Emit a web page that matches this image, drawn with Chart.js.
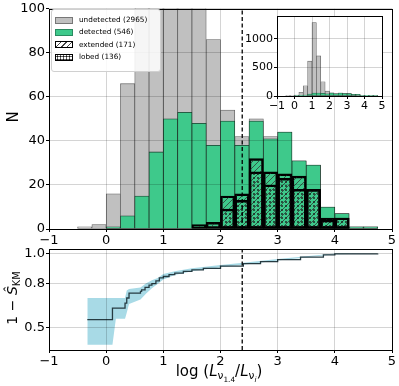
<!DOCTYPE html>
<html>
<head>
<meta charset="utf-8">
<script src="https://cdn.jsdelivr.net/npm/chart.js@4/dist/chart.umd.min.js"></script>
<style>
	body { margin: 0; background: #fff; font-family: 'DejaVu Sans', sans-serif; }
	#wrap { position: relative; width: 399px; height: 386px; overflow: hidden; }
	canvas { position: absolute; }
	#main { left: 0; top: 0; }
	#km { left: 0; top: 240px; }
	#inset { left: 240px; top: 8px; }
	.lab { position: absolute; white-space: nowrap; color: #000; transform: translate(-50%, -50%); }
	.rot { transform: translate(-50%, -50%) rotate(-90deg); }
	#legend {
		position: absolute; left: 51px; top: 9px; width: 108px; height: 57px;
		padding-top: 4px; border: 1px solid #d0d0d0; border-radius: 3px;
		background: rgba(255, 255, 255, 0.85); font-family: 'DejaVu Sans', sans-serif;
		font-size: 7.3px; line-height: 12.3px; white-space: nowrap;
	}
	#legend .row { display: flex; align-items: center; height: 12.3px; }
	#legend .patch { display: inline-block; box-sizing: border-box; width: 18px; height: 7px; margin: 0 6px 0 3px; flex: none; }
	sub { font-size: 70%; vertical-align: -0.3em; }
</style>
</head>
<body>
<div id="wrap">
	<canvas id="main" width="399" height="250"></canvas>
	<canvas id="km" width="399" height="146"></canvas>
	<canvas id="inset" width="150" height="105"></canvas>
	<div id="legend">
		<div class="row"><span class="patch" style="background:#c0c0c0;border:1px solid #777"></span>undetected (2965)</div>
		<div class="row"><span class="patch" style="background:#3ec98b;border:1px solid #2a8a60"></span>detected (546)</div>
		<div class="row"><span class="patch" style="border:1.5px solid #000;background:repeating-linear-gradient(135deg,#fff 0 3px,#444 3px 4px)"></span>extended (171)</div>
		<div class="row"><span class="patch" style="border:1.5px solid #000;background:radial-gradient(circle,#111 0.9px,#fff 1.2px) 0 0/3px 3px"></span>lobed (136)</div>
	</div>
	<div class="lab rot" style="left:13px;top:117px;font-size:15px">N</div>
	<div class="lab rot" style="left:13px;top:298px;font-size:14px">1 − <i>Ŝ</i><sub>KM</sub></div>
	<div class="lab" style="left:219px;top:373px;font-size:15px">log (<i>L</i><sub>ν<sub>1.4</sub></sub>/<i>L</i><sub>ν<sub><i>i</i></sub></sub>)</div>
</div>
<script>
// histogram bins (left edges, width 0.25)
const binLeft = [-0.5, -0.25, 0, 0.25, 0.5, 0.75, 1, 1.25, 1.5, 1.75, 2, 2.25, 2.5, 2.75, 3, 3.25, 3.5, 3.75, 4, 4.25, 4.5];
const binWidth = 0.25;
const allSources = [1, 2, 16, 66, 180, 612, 1286, 702, 250, 86, 54, 42, 50, 42, 44, 31, 29, 10, 7, 1, 1];
const detected = [0, 0, 1, 6, 15, 35, 50, 53, 48, 38, 49, 38, 49, 41, 44, 31, 29, 10, 7, 1, 1];
const extended = [0, 0, 0, 0, 0, 0, 0, 0, 2, 3, 15, 16, 32, 26, 25, 24, 18, 5, 5, 0, 0];
const lobed = [0, 0, 0, 0, 0, 0, 0, 0, 0, 0, 9, 13, 26, 20, 23, 18, 18, 4, 5, 0, 0];

const cutX = 2.38;
const xTicks = [-1, 0, 1, 2, 3, 4, 5];
const nTicks = [0, 20, 40, 60, 80, 100];
const insetTicks = [0, 500, 1000];

// Kaplan-Meier curve and confidence band
const kmX = [-0.33, 0.11, 0.33, 0.36, 0.40, 0.60, 0.62, 0.68, 0.75, 0.80, 0.87, 0.93, 1.00, 1.10, 1.20, 1.35, 1.50, 1.70, 2.00, 2.40, 2.70, 3.00, 3.40, 3.80, 4.00, 4.75];
const kmY = [0.555, 0.632, 0.665, 0.70, 0.733, 0.745, 0.755, 0.772, 0.787, 0.797, 0.815, 0.835, 0.845, 0.858, 0.868, 0.880, 0.890, 0.900, 0.915, 0.932, 0.945, 0.958, 0.975, 0.990, 0.997, 1.0];
const bandX = [-0.33, 0.11, 0.17, 0.33, 0.36, 0.40, 0.60, 0.70, 0.80, 0.90, 1.00, 1.20, 1.50, 2.00, 2.40, 3.00, 4.00, 4.75];
const bandLo = [0.385, 0.385, 0.56, 0.56, 0.60, 0.66, 0.69, 0.73, 0.765, 0.795, 0.825, 0.855, 0.88, 0.907, 0.924, 0.953, 0.995, 1.0];
const bandHi = [0.70, 0.70, 0.70, 0.70, 0.75, 0.76, 0.77, 0.80, 0.82, 0.835, 0.862, 0.88, 0.90, 0.922, 0.937, 0.963, 0.999, 1.0];
const kmTicks = [0.5, 0.8, 1.0];
const kmMin = 0.35, kmMax = 1.03;

Chart.defaults.font.family = "'DejaVu Sans', sans-serif";
Chart.defaults.color = '#000';

const gridColor = 'rgba(0,0,0,0.17)';
const fmtTick = (v) => (v < 0 ? '−' + Math.abs(v) : String(v));
const toBars = (vals) => binLeft.map((b, i) => ({ x: b + binWidth / 2, y: vals[i] || null }));
const toPoints = (xs, ys) => xs.map((x, i) => ({ x: x, y: ys[i] }));

// axes box (all four spines), optional white background of the plot area
const frame = {
	id: 'frame',
	beforeDraw(chart, args, opts) {
		if (!opts.fill) return;
		const a = chart.chartArea;
		chart.ctx.save();
		chart.ctx.fillStyle = opts.fill;
		chart.ctx.fillRect(a.left, a.top, a.right - a.left, a.bottom - a.top);
		chart.ctx.restore();
	},
	afterDraw(chart) {
		const a = chart.chartArea;
		const ctx = chart.ctx;
		ctx.save();
		ctx.strokeStyle = '#000';
		ctx.lineWidth = 1;
		ctx.strokeRect(Math.round(a.left) + 0.5, Math.round(a.top) + 0.5, Math.round(a.right - a.left), Math.round(a.bottom - a.top));
		ctx.restore();
	},
};

const mainCtx = document.getElementById('main').getContext('2d');

function hatchPattern() {
	const c = document.createElement('canvas');
	c.width = 6; c.height = 6;
	const g = c.getContext('2d');
	g.strokeStyle = 'rgba(50,50,50,0.75)';
	g.lineWidth = 1;
	g.beginPath();
	g.moveTo(0, 6); g.lineTo(6, 0);
	g.moveTo(-1, 1); g.lineTo(1, -1);
	g.moveTo(5, 7); g.lineTo(7, 5);
	g.stroke();
	return mainCtx.createPattern(c, 'repeat');
}

function dotPattern() {
	const c = document.createElement('canvas');
	c.width = 4; c.height = 4;
	const g = c.getContext('2d');
	g.fillStyle = 'rgba(25,25,25,0.9)';
	g.beginPath(); g.arc(2, 2, 1.0, 0, Math.PI * 2); g.fill();
	return mainCtx.createPattern(c, 'repeat');
}

function xScale(height, size) {
	return {
		type: 'linear', min: -1, max: 5, offset: false,
		afterBuildTicks: (s) => { s.ticks = xTicks.map((v) => ({ value: v })); },
		afterFit: (s) => { s.height = height; },
		grid: { color: gridColor, z: 1, offset: false, tickLength: 3, tickColor: '#000' },
		border: { display: false },
		ticks: { font: { size: size }, padding: 1, maxRotation: 0, autoSkip: false, callback: fmtTick },
	};
}

function yScale(min, max, ticks, width, size, fmt) {
	return {
		min: min, max: max,
		afterBuildTicks: (s) => { s.ticks = ticks.map((v) => ({ value: v })); },
		afterFit: (s) => { s.width = width; },
		grid: { color: gridColor, z: 1, tickLength: 3, tickColor: '#000' },
		border: { display: false },
		ticks: { font: { size: size }, padding: 1, autoSkip: false, callback: fmt },
	};
}

const barBase = { grouped: false, barPercentage: 1, categoryPercentage: 1, borderSkipped: false };

new Chart(mainCtx, {
	type: 'bar',
	data: {
		datasets: [
			{ ...barBase, label: 'undetected (2965)', data: toBars(allSources), order: 4,
				backgroundColor: '#c0c0c0', borderColor: '#606060', borderWidth: 0.8 },
			{ ...barBase, label: 'detected (546)', data: toBars(detected), order: 3,
				backgroundColor: '#3ec98b', borderColor: '#1e3a2c', borderWidth: 0.8 },
			{ ...barBase, label: 'extended (171)', data: toBars(extended), order: 2,
				backgroundColor: hatchPattern(), borderColor: '#000', borderWidth: 1.8 },
			{ ...barBase, label: 'lobed (136)', data: toBars(lobed), order: 1,
				backgroundColor: dotPattern(), borderColor: '#000', borderWidth: 1.8 },
			{ type: 'line', data: [{ x: cutX, y: 0 }, { x: cutX, y: 100 }], order: 0,
				borderColor: '#000', borderWidth: 1.3, borderDash: [4, 2.5], pointRadius: 0 },
		],
	},
	options: {
		responsive: false,
		animation: false,
		layout: { padding: { top: 7, right: 7, left: 0, bottom: 0 } },
		plugins: { legend: { display: false }, tooltip: { enabled: false } },
		scales: {
			x: xScale(21, 13),
			y: yScale(0, 100, nTicks, 49, 13, fmtTick),
		},
	},
	plugins: [frame],
});

new Chart(document.getElementById('inset'), {
	type: 'bar',
	data: {
		datasets: [
			{ ...barBase, data: toBars(allSources), order: 2,
				backgroundColor: '#c0c0c0', borderColor: '#606060', borderWidth: 0.7 },
			{ ...barBase, data: toBars(detected), order: 1,
				backgroundColor: '#3ec98b', borderColor: '#1e3a2c', borderWidth: 0.5 },
		],
	},
	options: {
		responsive: false,
		animation: false,
		layout: { padding: { top: 8, right: 8, left: 0, bottom: 0 } },
		plugins: { legend: { display: false }, tooltip: { enabled: false }, frame: { fill: '#fff' } },
		scales: {
			x: xScale(17, 11),
			y: yScale(0, 1400, insetTicks, 37, 11, fmtTick),
		},
	},
	plugins: [frame],
});

new Chart(document.getElementById('km'), {
	type: 'line',
	data: {
		datasets: [
			{ data: [{ x: cutX, y: kmMin }, { x: cutX, y: kmMax }], borderColor: '#000',
				borderWidth: 1.3, borderDash: [4, 2.5], pointRadius: 0 },
			{ data: toPoints(kmX, kmY), stepped: true, borderColor: '#263b42', borderWidth: 1.3, pointRadius: 0 },
			{ data: toPoints(bandX, bandHi), fill: '+1', backgroundColor: '#a8dae6', borderWidth: 0, pointRadius: 0 },
			{ data: toPoints(bandX, bandLo), fill: false, borderWidth: 0, pointRadius: 0 },
		],
	},
	options: {
		responsive: false,
		animation: false,
		layout: { padding: { top: 9, right: 7, left: 0, bottom: 0 } },
		plugins: { legend: { display: false }, tooltip: { enabled: false } },
		scales: {
			x: xScale(36, 13),
			y: yScale(kmMin, kmMax, kmTicks, 49, 13, (v) => v.toFixed(1)),
		},
	},
	plugins: [frame],
});
</script>
</body>
</html>
